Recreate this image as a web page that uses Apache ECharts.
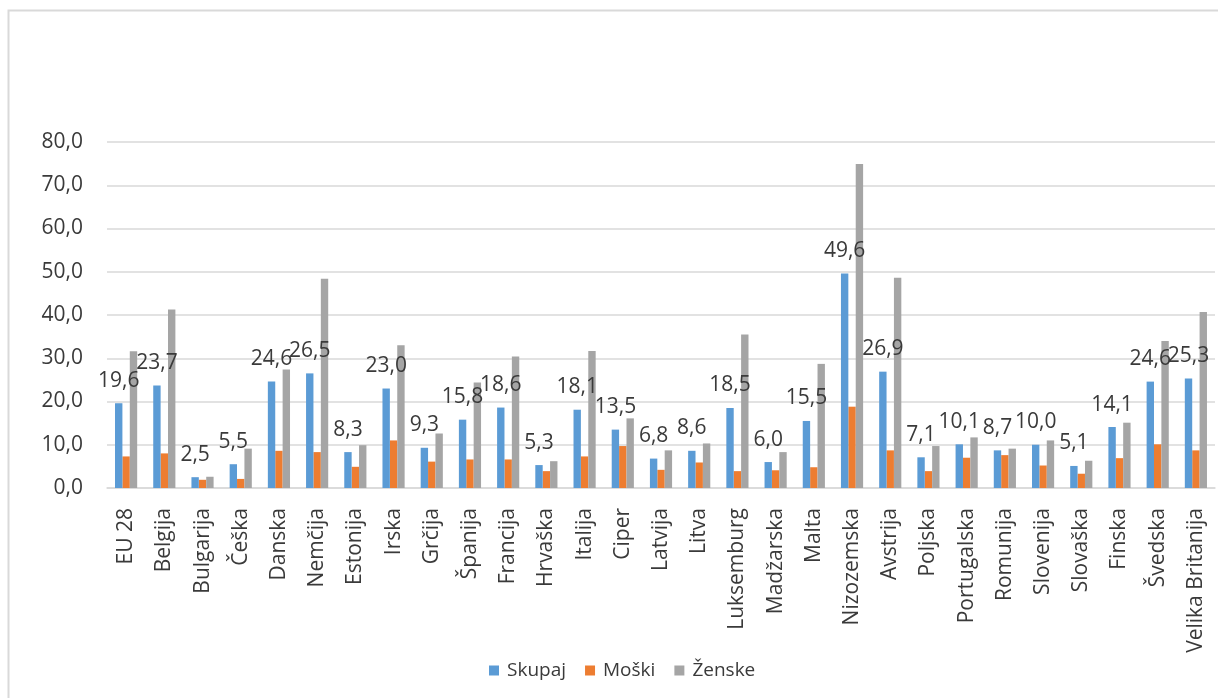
<!DOCTYPE html>
<html>
<head>
<meta charset="utf-8">
<script src="https://cdn.jsdelivr.net/npm/echarts@6/dist/echarts.min.js"></script>
<style>
  html, body { margin: 0; padding: 0; background: #ffffff; }
  #chart { width: 1218px; height: 698px; }
</style>
</head>
<body>
<div id="chart"></div>
<script>
// Države (kategorije na osi x)
const categories = [
  'EU 28', 'Belgija', 'Bulgarija', 'Češka', 'Danska', 'Nemčija', 'Estonija',
  'Irska', 'Grčija', 'Španija', 'Francija', 'Hrvaška', 'Italija', 'Ciper',
  'Latvija', 'Litva', 'Luksemburg', 'Madžarska', 'Malta', 'Nizozemska',
  'Avstrija', 'Poljska', 'Portugalska', 'Romunija', 'Slovenija', 'Slovaška',
  'Finska', 'Švedska', 'Velika Britanija'
];

// Skupaj
const skupaj = [
  19.6, 23.7, 2.5, 5.5, 24.6, 26.5, 8.3, 23.0, 9.3, 15.8, 18.6, 5.3, 18.1, 13.5,
  6.8, 8.6, 18.5, 6.0, 15.5, 49.6, 26.9, 7.1, 10.1, 8.7, 10.0, 5.1, 14.1, 24.6, 25.3
];

// Moški
const moski = [
  7.3, 8.0, 1.9, 2.1, 8.6, 8.3, 4.9, 11.0, 6.1, 6.6, 6.6, 3.9, 7.3, 9.7,
  4.2, 5.9, 3.9, 4.1, 4.8, 18.8, 8.7, 3.9, 7.0, 7.6, 5.2, 3.3, 6.9, 10.1, 8.7
];

// Ženske
const zenske = [
  31.6, 41.3, 2.6, 9.1, 27.4, 48.4, 9.9, 33.0, 12.6, 24.4, 30.4, 6.2, 31.7, 16.1,
  8.7, 10.3, 35.5, 8.3, 28.7, 74.9, 48.6, 9.7, 11.7, 9.1, 11.0, 6.3, 15.1, 34.0, 40.7
];

// Oznake na osi y
const yMin = 0;
const yMax = 80;
const yStep = 10;

const seriesNames = ['Skupaj', 'Moški', 'Ženske'];
const seriesColors = ['#5B9BD5', '#ED7D31', '#A5A5A5'];

const fmt = v => Number(v).toFixed(1).replace('.', ',');
const fontFamily = '"Open Sans", "Noto Sans", sans-serif';
const textColor = '#3a3a3a';
const fontSize = 21;

const chart = echarts.init(document.getElementById('chart'), null, { renderer: 'canvas' });

chart.setOption({
  backgroundColor: '#ffffff',
  animation: false,
  textStyle: { fontFamily: fontFamily },
  graphic: [{
    type: 'rect',
    shape: { x: 8.5, y: 10.5, width: 1240, height: 720 },
    style: { fill: 'none', stroke: '#D9D9D9', lineWidth: 2 },
    silent: true,
    z: -10
  }],
  grid: { left: 107, right: 3, top: 142, bottom: 210, containLabel: false },
  legend: {
    data: seriesNames,
    left: 484,
    top: 656,
    icon: 'rect',
    itemWidth: 10,
    itemHeight: 10,
    itemGap: 19,
    textStyle: { fontSize: 19, color: textColor, fontFamily: fontFamily, padding: [0, 0, 0, 3] }
  },
  xAxis: {
    type: 'category',
    data: categories,
    axisTick: { show: false },
    axisLine: { lineStyle: { color: '#D9D9D9', width: 1.5 } },
    axisLabel: {
      rotate: 90,
      interval: 0,
      margin: 20,
      fontSize: fontSize,
      color: textColor,
      fontFamily: fontFamily
    }
  },
  yAxis: {
    type: 'value',
    min: yMin,
    max: yMax,
    interval: yStep,
    axisLine: { show: false },
    axisTick: { show: false },
    splitLine: { lineStyle: { color: '#D9D9D9', width: 1.5 } },
    axisLabel: {
      margin: 24,
      fontSize: fontSize,
      color: textColor,
      fontFamily: fontFamily,
      formatter: v => fmt(v)
    }
  },
  series: [
    {
      name: seriesNames[0],
      type: 'bar',
      data: skupaj,
      z: 5,
      barGap: '0%',
      barCategoryGap: '42%',
      itemStyle: { color: seriesColors[0] },
      label: {
        show: true,
        position: 'top',
        distance: 12,
        fontSize: fontSize,
        color: textColor,
        fontFamily: fontFamily,
        formatter: p => fmt(p.value)
      }
    },
    {
      name: seriesNames[1],
      type: 'bar',
      data: moski,
      barGap: '0%',
      barCategoryGap: '42%',
      itemStyle: { color: seriesColors[1] }
    },
    {
      name: seriesNames[2],
      type: 'bar',
      data: zenske,
      barGap: '0%',
      barCategoryGap: '42%',
      itemStyle: { color: seriesColors[2] }
    }
  ]
});
</script>
</body>
</html>
